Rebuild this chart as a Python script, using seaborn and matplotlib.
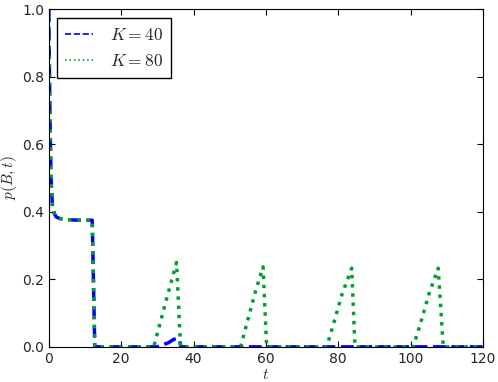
import numpy as np
import pandas as pd
import matplotlib
matplotlib.use('Agg')
import matplotlib.pyplot as plt
import seaborn as sns

# K = 80 curve (green, dotted)
t_80 = [0, 0.3, 0.6, 1, 1.5, 2, 3, 5, 8, 12, 12.7,
        29, 31, 33, 35.3, 36.4,
        53, 55, 57, 59.2, 60.2,
        76.8, 79, 81, 83.7, 84.6,
        100.7, 103, 105, 107.6, 109, 120]
p_80 = [1.0, 0.7, 0.5, 0.42, 0.395, 0.385, 0.38, 0.377, 0.375, 0.375, 0.0,
        0.0, 0.08, 0.16, 0.25, 0.0,
        0.0, 0.08, 0.16, 0.237, 0.0,
        0.0, 0.08, 0.155, 0.233, 0.0,
        0.0, 0.08, 0.155, 0.233, 0.0, 0.0]

# K = 40 curve (blue, dashed)
t_40 = [0, 0.3, 0.6, 1, 1.5, 2, 3, 5, 8, 12, 12.7,
        30, 31, 33, 34.5, 35.5, 36.2, 36.5, 120]
p_40 = [1.0, 0.7, 0.5, 0.42, 0.395, 0.385, 0.38, 0.377, 0.375, 0.375, 0.0,
        0.0, 0.004, 0.012, 0.022, 0.025, 0.018, 0.0, 0.0]

sns.set_style('ticks', {'xtick.direction': 'in', 'ytick.direction': 'in',
                        'axes.edgecolor': 'black'})
plt.rcParams['mathtext.fontset'] = 'cm'

fig = plt.figure(figsize=(4.98, 3.82), dpi=100)
ax = fig.add_axes([0.098, 0.092, 0.872, 0.884])

sns.lineplot(x=t_40, y=p_40, ax=ax, color='#0000ff', linestyle='--',
             linewidth=2.5, sort=False, estimator=None, label='$K=40$')
sns.lineplot(x=t_80, y=p_80, ax=ax, color='#00a030', linestyle=':',
             linewidth=2.5, sort=False, estimator=None, label='$K=80$')

ax.set_xlim(0, 120)
ax.set_ylim(0, 1.0)
ax.set_xticks(np.arange(0, 121, 20))
ax.set_yticks(np.arange(0, 1.01, 0.2))
ax.tick_params(top=True, right=True, length=4, labelsize=10, color='black')
ax.set_xlabel('$t$', fontsize=11, labelpad=1)
ax.set_ylabel('$p(B,t)$', fontsize=11, labelpad=2)

leg = ax.legend(loc='upper left', fancybox=False, framealpha=1,
                edgecolor='black', fontsize=12.5, handlelength=1.6,
                handletextpad=1.0, borderpad=0.45)
leg.get_frame().set_linewidth(1)
for line in leg.get_lines():
    line.set_linewidth(1.2)

fig.savefig('out.png', dpi=100)
